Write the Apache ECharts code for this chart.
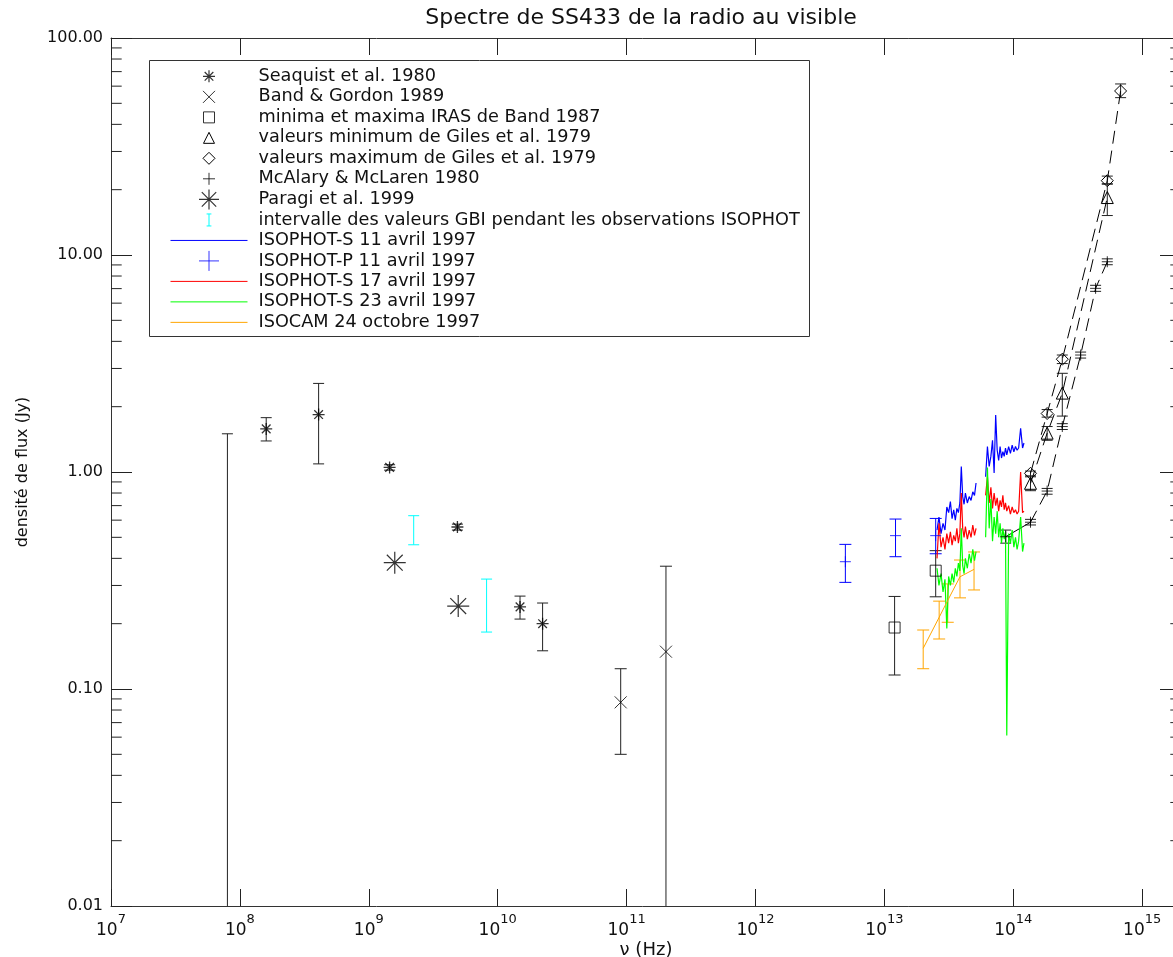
<!DOCTYPE html>
<html><head><meta charset="utf-8">
<script src="https://cdn.jsdelivr.net/npm/echarts@6/dist/echarts.min.js"></script>
<style>html,body{margin:0;padding:0;background:#fff}#c{width:1173px;height:957px}</style>
</head><body><div id="c"></div><script>
const FONT = 'DejaVu Sans';
const X_MIN = 1e7, X_MAX = 2e15, Y_MIN = 0.01, Y_MAX = 100;

const S_SEA = 'Seaquist et al. 1980';
const S_BAND = 'Band & Gordon 1989';
const S_IRAS = 'minima et maxima IRAS de Band 1987';
const S_GMIN = 'valeurs minimum de Giles et al. 1979';
const S_GMAX = 'valeurs maximum de Giles et al. 1979';
const S_MCA = 'McAlary & McLaren 1980';
const S_PAR = 'Paragi et al. 1999';
const S_GBI = 'intervalle des valeurs GBI pendant les observations ISOPHOT';
const S_S11 = 'ISOPHOT-S 11 avril 1997';
const S_P11 = 'ISOPHOT-P 11 avril 1997';
const S_S17 = 'ISOPHOT-S 17 avril 1997';
const S_S23 = 'ISOPHOT-S 23 avril 1997';
const S_CAM = 'ISOCAM 24 octobre 1997';

// Seaquist et al. 1980
const seaquistFreq = [1.6e8, 4.08e8, 1.45e9, 4.87e9, 1.49e10, 2.23e10];
const seaquistFlux = [1.58, 1.84, 1.05, 0.558, 0.239, 0.200];
const seaquistLow  = [1.39, 1.09, 1.02, 0.540, 0.210, 0.150];
const seaquistHigh = [1.78, 2.56, 1.08, 0.575, 0.268, 0.249];
// low-frequency bar whose value lies below the axis
const limitFreq = [8.0e7];
const limitLow = [0.001];
const limitHigh = [1.5];
// Band & Gordon 1989
const bandFreq = [9.0e10, 2.02e11];
const bandFlux = [0.0868, 0.1486];
const bandLow  = [0.050, 0.001];
const bandHigh = [0.124, 0.368];
// IRAS (Band 1987)
const irasFreq = [1.2e13, 2.5e13];
const irasFlux = [0.192, 0.351];
const irasLow  = [0.116, 0.266];
const irasHigh = [0.267, 0.434];
// Giles et al. 1979
const gMinFreq = [1.36e14, 1.83e14, 2.40e14, 5.36e14];
const gMinFlux = [0.887, 1.51, 2.31, 18.4];
const gMinLow  = [0.82, 1.40, 1.81, 15.2];
const gMinHigh = [0.96, 1.62, 2.85, 21.3];
const gMaxFreq = [1.36e14, 1.83e14, 2.40e14, 5.36e14, 6.8e14];
const gMaxFlux = [0.986, 1.86, 3.31, 22.0, 57.0];
const gMaxLow  = [0.95, 1.79, 3.16, 21.2, 53.1];
const gMaxHigh = [1.01, 1.94, 3.46, 23.1, 61.4];
// McAlary & McLaren 1980
const mcaFreq = [8.73e13, 1.36e14, 1.83e14, 2.40e14, 3.33e14, 4.35e14, 5.36e14];
const mcaFlux = [0.503, 0.587, 0.817, 1.62, 3.46, 7.02, 9.31];
const mcaLow  = [0.47, 0.57, 0.79, 1.57, 3.35, 6.80, 9.02];
const mcaHigh = [0.54, 0.605, 0.84, 1.67, 3.57, 7.25, 9.60];
// Paragi et al. 1999
const paragiFreq = [1.59e9, 4.94e9];
const paragiFlux = [0.382, 0.241];
// GBI ranges
const gbiFreq = [2.23e9, 8.2e9];
const gbiLow  = [0.462, 0.183];
const gbiHigh = [0.629, 0.321];
// ISOPHOT-P
const phtpFreq = [4.98e12, 1.22e13, 2.5e13];
const phtpFlux = [0.386, 0.509, 0.509];
const phtpLow  = [0.310, 0.407, 0.420];
const phtpHigh = [0.464, 0.607, 0.611];
// ISOCAM
const camFreq = [2.0e13, 2.66e13, 3.1e13, 3.86e13, 4.96e13];
const camFlux = [0.154, 0.214, 0.256, 0.329, 0.356];
const camLow  = [0.124, 0.170, 0.203, 0.263, 0.286];
const camHigh = [0.187, 0.254, 0.305, 0.393, 0.428];
// ISOPHOT-S spectra
const slFreq = [2.56e13, 2.65e13, 2.75e13, 2.85e13, 2.95e13, 3.05e13, 3.15e13, 3.25e13, 3.35e13, 3.45e13, 3.55e13, 3.65e13, 3.75e13, 3.85e13, 3.95e13, 4.05e13, 4.15e13, 4.25e13, 4.40e13, 4.55e13, 4.70e13, 4.85e13, 5.00e13, 5.14e13];
const ssFreq = [6.1e13, 6.3e13, 6.5e13, 6.7e13, 6.9e13, 7.1e13, 7.3e13, 7.5e13, 7.7e13, 7.9e13, 8.1e13, 8.3e13, 8.5e13, 8.7e13, 8.9e13, 9.2e13, 9.5e13, 9.8e13, 1.01e14, 1.04e14, 1.07e14, 1.10e14, 1.14e14, 1.18e14, 1.21e14];
const blueSL  = [0.54, 0.62, 0.52, 0.58, 0.54, 0.69, 0.65, 0.73, 0.61, 0.67, 0.60, 0.68, 0.65, 0.72, 1.06, 0.77, 0.71, 0.80, 0.72, 0.77, 0.74, 0.81, 0.78, 0.89];
const blueSS  = [0.95, 1.31, 1.06, 1.18, 1.40, 0.99, 1.83, 1.26, 1.13, 1.31, 1.16, 1.24, 1.18, 1.29, 1.20, 1.31, 1.22, 1.33, 1.24, 1.31, 1.26, 1.29, 1.59, 1.29, 1.36];
const redSL   = [0.40, 0.58, 0.45, 0.50, 0.44, 0.52, 0.47, 0.53, 0.46, 0.51, 0.48, 0.55, 0.47, 0.52, 0.80, 0.55, 0.50, 0.56, 0.49, 0.54, 0.50, 0.57, 0.51, 0.55];
const redSS   = [0.78, 0.95, 0.72, 0.85, 0.68, 0.80, 0.70, 0.76, 0.66, 0.74, 0.69, 0.78, 0.67, 0.72, 0.66, 0.70, 0.64, 0.69, 0.65, 0.67, 0.64, 0.66, 1.00, 0.65, 0.66];
const greenSL = [0.36, 0.30, 0.34, 0.28, 0.32, 0.19, 0.33, 0.30, 0.34, 0.31, 0.36, 0.33, 0.38, 0.35, 0.55, 0.37, 0.34, 0.40, 0.36, 0.42, 0.38, 0.44, 0.39, 0.43];
const greenSS = [0.50, 1.05, 0.55, 0.75, 0.48, 0.62, 0.52, 0.66, 0.50, 0.58, 0.47, 0.55, 0.49, 0.53, 0.061, 0.52, 0.47, 0.54, 0.45, 0.50, 0.44, 0.48, 0.62, 0.43, 0.47];

// minor tick values on the flux axis
const fluxDecades = [0.01, 0.1, 1, 10];
const minorMultipliers = [2, 3, 4, 5, 6, 7, 8, 9];

const SHAPES = {
  ast: [[[0,-1],[0,1]],[[-1,0],[1,0]],[[-0.72,-0.72],[0.72,0.72]],[[-0.72,0.72],[0.72,-0.72]]],
  cross: [[[-1,-1],[1,1]],[[-1,1],[1,-1]]],
  square: [[[-1,-1],[1,-1],[1,1],[-1,1],[-1,-1]]],
  tri: [[[0,-1],[1,1],[-1,1],[0,-1]]],
  dia: [[[0,-1],[1,0],[0,1],[-1,0],[0,-1]]],
  plus: [[[0,-1],[0,1]],[[-1,0],[1,0]]],
  ibar: [[[-0.4,-1],[0.4,-1]],[[0,-1],[0,1]],[[-0.4,1],[0.4,1]]]
};
function shapePath(name, half, pad) {
  let d = pad ? ('M' + (-pad) + ',' + (-pad) + 'M' + pad + ',' + pad) : '';
  for (const seg of SHAPES[name]) {
    d += seg.map((p, i) => (i ? 'L' : 'M') + (p[0] * half).toFixed(2) + ',' + (p[1] * half).toFixed(2)).join('');
  }
  return 'path://' + d;
}
const LINE_ICON = 'path://M0,-10M77,10M0,0L77,0';
const zip = (xs, ys) => xs.map((x, i) => [x, ys[i]]);
const open = (c, w) => ({color: 'rgba(0,0,0,0)', borderColor: c, borderWidth: w || 1});

function scatterS(name, xs, ys, shape, size, color, w) {
  return {type: 'scatter', name, data: zip(xs, ys), symbol: shapePath(shape, 1, 0), symbolSize: size,
    itemStyle: open(color, w), silent: true, z: 5, clip: true};
}
function lineS(name, xs, ys, color, width, dash, shape, size) {
  return {type: 'line', name, data: zip(xs, ys), symbol: shape ? shapePath(shape, 1, 0) : 'none',
    symbolSize: size || 0, showSymbol: !!shape, itemStyle: open('#000'),
    lineStyle: {color, width, type: dash || 'solid'}, silent: true, z: 4, clip: true};
}
function errS(name, xs, lows, highs, color, capW) {
  return {
    type: 'custom', name, silent: true, clip: true, z: 3,
    data: xs.map((x, i) => [x, lows[i], highs[i]]),
    encode: {x: 0, y: [1, 2]},
    renderItem(params, api) {
      const x = api.value(0);
      const a = api.coord([x, api.value(2)]);
      const b = api.coord([x, api.value(1)]);
      const h = capW / 2, st = {stroke: color, lineWidth: 1};
      return {type: 'group', children: [
        {type: 'line', shape: {x1: a[0], y1: a[1], x2: b[0], y2: b[1]}, style: st},
        {type: 'line', shape: {x1: a[0] - h, y1: a[1], x2: a[0] + h, y2: a[1]}, style: st},
        {type: 'line', shape: {x1: b[0] - h, y1: b[1], x2: b[0] + h, y2: b[1]}, style: st}
      ]};
    }
  };
}

const yMinorTicks = [];
fluxDecades.forEach(d => minorMultipliers.forEach(m => yMinorTicks.push(m * d)));
const minorTickSeries = {
  type: 'custom', silent: true, clip: false, z: 6,
  data: yMinorTicks.map(v => [X_MIN, v]),
  encode: {x: 0, y: 1},
  renderItem(params, api) {
    const v = api.value(1);
    const L = api.coord([X_MIN, v]), R = api.coord([X_MAX, v]);
    const st = {stroke: '#222', lineWidth: 1};
    return {type: 'group', children: [
      {type: 'line', shape: {x1: L[0], y1: L[1], x2: L[0] + 10.7, y2: L[1]}, style: st},
      {type: 'line', shape: {x1: R[0] - 10.7, y1: R[1], x2: R[0], y2: R[1]}, style: st}
    ]};
  }
};

const axisLine = {show: true, lineStyle: {color: '#333', width: 1}};
const tickStyle = {color: '#222', width: 1};
function xFmt(v) {
  const l = Math.log10(v), e = Math.round(l);
  if (Math.abs(l - e) > 1e-6) return '';
  return '{b|10}{s|' + e + '}';
}
const baseX = {type: 'log', logBase: 10, min: X_MIN, max: X_MAX, splitNumber: 10, axisLine,
  splitLine: {show: false}, minorTick: {show: false}};
const baseY = {type: 'log', logBase: 10, min: Y_MIN, max: Y_MAX, splitNumber: 10, axisLine,
  splitLine: {show: false}, minorTick: {show: false}};

const option = {
  animation: false,
  backgroundColor: '#fff',
  title: {text: 'Spectre de SS433 de la radio au visible', left: 641, top: 7, padding: 0, textAlign: 'center',
    textStyle: {fontFamily: FONT, fontSize: 22, fontWeight: 'normal', color: '#111'}},
  grid: {left: 111, top: 38, right: -8, bottom: 51, outerBoundsMode: 'none'},
  xAxis: [
    Object.assign({}, baseX, {position: 'bottom', name: 'ν (Hz)', nameLocation: 'middle', nameGap: 35,
      nameMoveOverlap: false,
      nameTextStyle: {fontFamily: FONT, fontSize: 18, color: '#111'},
      axisTick: {inside: true, length: 17, lineStyle: tickStyle},
      axisLabel: {margin: 7, formatter: xFmt, showMaxLabel: false, rich: {
        b: {fontFamily: FONT, fontSize: 17, color: '#111', lineHeight: 26, verticalAlign: 'bottom'},
        s: {fontFamily: FONT, fontSize: 13, color: '#111', lineHeight: 9, verticalAlign: 'top'}}}}),
    Object.assign({}, baseX, {position: 'top', axisLabel: {show: false},
      axisTick: {inside: true, length: 17, lineStyle: tickStyle}})
  ],
  yAxis: [
    Object.assign({}, baseY, {position: 'left', name: 'densité de flux (Jy)', nameLocation: 'middle', nameGap: 80,
      nameMoveOverlap: false,
      nameTextStyle: {fontFamily: FONT, fontSize: 16, color: '#111'},
      axisTick: {inside: true, length: 21, lineStyle: tickStyle},
      axisLabel: {margin: 8, formatter: v => v.toFixed(2), fontFamily: FONT, fontSize: 16, color: '#111'}}),
    Object.assign({}, baseY, {position: 'right', axisLabel: {show: false},
      axisTick: {inside: true, length: 21, lineStyle: tickStyle}})
  ],
  legend: {
    orient: 'vertical', left: 170, top: 65.7, itemWidth: 77, itemHeight: 20, itemGap: -0.52, padding: 0,
    selectedMode: false,
    textStyle: {fontFamily: FONT, fontSize: 17.7, color: '#111', padding: [0, 0, 0, 6], lineHeight: 20},
    data: [
      {name: S_SEA, icon: shapePath('ast', 6, 10), itemStyle: open('#000', 1.2)},
      {name: S_BAND, icon: shapePath('cross', 6, 10), itemStyle: open('#000')},
      {name: S_IRAS, icon: shapePath('square', 5.5, 10), itemStyle: open('#000')},
      {name: S_GMIN, icon: shapePath('tri', 5.5, 10), itemStyle: open('#000')},
      {name: S_GMAX, icon: shapePath('dia', 6, 10), itemStyle: open('#000')},
      {name: S_MCA, icon: shapePath('plus', 6, 10), itemStyle: open('#000')},
      {name: S_PAR, icon: shapePath('ast', 10, 10), itemStyle: open('#000', 1.2)},
      {name: S_GBI, icon: shapePath('ibar', 6, 10), itemStyle: open('#00ffff')},
      {name: S_S11, icon: LINE_ICON, itemStyle: open('#0000ff')},
      {name: S_P11, icon: shapePath('plus', 10, 10), itemStyle: open('#0000ff')},
      {name: S_S17, icon: LINE_ICON, itemStyle: open('#ff0000')},
      {name: S_S23, icon: LINE_ICON, itemStyle: open('#00ff00')},
      {name: S_CAM, icon: LINE_ICON, itemStyle: open('#ffa500')}
    ]
  },
  graphic: [{type: 'rect', silent: true, z: 100,
    shape: {x: 149.5, y: 60.5, width: 660, height: 276},
    style: {fill: 'none', stroke: '#333', lineWidth: 1}}],
  series: [
    scatterS(S_SEA, seaquistFreq, seaquistFlux, 'ast', 12, '#000', 1.3),
    errS(S_SEA, seaquistFreq, seaquistLow, seaquistHigh, '#222', 11),
    errS(S_SEA, limitFreq, limitLow, limitHigh, '#222', 11),
    scatterS(S_BAND, bandFreq, bandFlux, 'cross', 12, '#000'),
    errS(S_BAND, bandFreq, bandLow, bandHigh, '#222', 12),
    scatterS(S_IRAS, irasFreq, irasFlux, 'square', 11, '#000'),
    errS(S_IRAS, irasFreq, irasLow, irasHigh, '#222', 12),
    lineS(S_GMIN, gMinFreq, gMinFlux, '#000', 1, [13, 7], 'tri', 12),
    errS(S_GMIN, gMinFreq, gMinLow, gMinHigh, '#222', 11),
    lineS(S_GMAX, gMaxFreq, gMaxFlux, '#000', 1, [13, 7], 'dia', 12),
    errS(S_GMAX, gMaxFreq, gMaxLow, gMaxHigh, '#222', 11),
    scatterS(S_MCA, mcaFreq, mcaFlux, 'plus', 11, '#000'),
    lineS(S_MCA, mcaFreq.slice(1), mcaFlux.slice(1), '#000', 1, [13, 7]),
    lineS(S_MCA, mcaFreq.slice(0, 2), mcaFlux.slice(0, 2), '#000', 1),
    errS(S_MCA, mcaFreq, mcaLow, mcaHigh, '#222', 11),
    scatterS(S_PAR, paragiFreq, paragiFlux, 'ast', 22, '#000', 1.2),
    errS(S_GBI, gbiFreq, gbiLow, gbiHigh, '#00ffff', 11),
    lineS(S_S11, slFreq, blueSL, '#0000ff', 1.2),
    lineS(S_S11, ssFreq, blueSS, '#0000ff', 1.2),
    scatterS(S_P11, phtpFreq, phtpFlux, 'plus', 11, '#0000ff'),
    errS(S_P11, phtpFreq, phtpLow, phtpHigh, '#0000ff', 12),
    lineS(S_S17, slFreq, redSL, '#ff0000', 1.2),
    lineS(S_S17, ssFreq, redSS, '#ff0000', 1.2),
    lineS(S_S23, slFreq, greenSL, '#00ff00', 1.2),
    lineS(S_S23, ssFreq, greenSS, '#00ff00', 1.2),
    lineS(S_CAM, camFreq, camFlux, '#ffa500', 1),
    errS(S_CAM, camFreq, camLow, camHigh, '#ffa500', 12),
    minorTickSeries
  ]
};
const chart = echarts.init(document.getElementById('c'), null, {renderer: 'canvas'});
chart.setOption(option);
</script></body></html>
